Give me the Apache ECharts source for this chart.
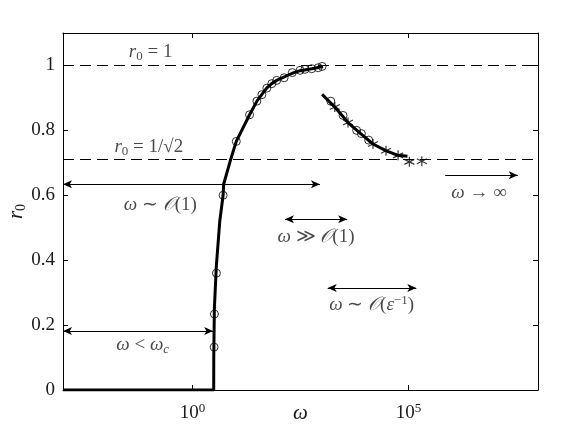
<!DOCTYPE html>
<html><head><meta charset="utf-8">
<script src="https://cdn.jsdelivr.net/npm/echarts@6/dist/echarts.min.js"></script>
<style>html,body{margin:0;padding:0;background:#fff}#c{width:561px;height:438px}</style>
</head><body><div id="c"></div>
<script>
// ---- data ----
const xTickValues = [1, 100000];
const yTickValues = [0, 0.2, 0.4, 0.6, 0.8, 1];
const refLevels = [1, 0.7071];

const lowCurveW = [0.001, 3.09, 3.1, 3.2, 3.55, 4.27, 5.1, 5.25, 7.5, 10.3, 20.9, 31, 40, 52, 68, 89, 204, 309, 575, 1050];
const lowCurveR = [0, 0, 0.1, 0.25, 0.38, 0.52, 0.6, 0.634, 0.707, 0.766, 0.848, 0.89, 0.91, 0.93, 0.944, 0.954, 0.976, 0.984, 0.99, 0.997];

const lowCirclesW = [3.16, 3.21, 3.57, 5.1, 10.3, 20.9, 30.9, 40.4, 52.5, 68.6, 89, 132, 204, 309, 400, 575, 813, 1000];
const lowCirclesR = [0.132, 0.234, 0.36, 0.6, 0.766, 0.848, 0.89, 0.91, 0.93, 0.944, 0.954, 0.962, 0.978, 0.985, 0.988, 0.99, 0.993, 0.997];

const highCurveW = [1000, 1970, 3980, 7830, 15100, 30600, 57300, 94900];
const highCurveR = [0.911, 0.872, 0.824, 0.79, 0.758, 0.737, 0.723, 0.72];

const highCirclesW = [1590, 3060, 6310, 8130, 12000];
const highCirclesR = [0.89, 0.846, 0.8, 0.79, 0.77];

const starsW = [1970, 3980, 15100, 30200, 57500, 105000, 204000];
const starsR = [0.872, 0.824, 0.758, 0.737, 0.723, 0.703, 0.705];

// arrows: [wStart, wEnd, r, doubleHeaded]
const arrowO1 = [0.001, 891, 0.634, true];
const arrowGgO1 = [138, 3800, 0.526, true];
const arrowEps = [1350, 152000, 0.314, true];
const arrowInf = [708000, 3.4e7, 0.662, false];
const arrowWc = [0.001, 3.0, 0.182, true];

// annotation text anchors [w, r]
const noteR1 = [0.107, 1.04];
const noteRsq = [0.097, 0.748];
const noteO1 = [0.18, 0.569];
const noteGg = [720, 0.47];
const noteEps = [14000, 0.262];
const noteInf = [4.3e6, 0.606];
const noteWc = [0.07, 0.138];

// ---- build ----
const zip = (a, b) => a.map((v, i) => [v, b[i]]);
const SERIF = 'Liberation Serif';
const TXT = '#1a1a1a';
const FS = 19;
const rich = {
  i: {fontFamily: SERIF, fontStyle: 'italic', fontSize: FS, color: TXT},
  n: {fontFamily: SERIF, fontSize: FS, color: TXT},
  o: {fontFamily: SERIF, fontStyle: 'italic', fontSize: FS, color: TXT},
  sub: {fontFamily: SERIF, fontSize: 13, color: TXT, padding: [8, 0, 0, 0]},
  subi: {fontFamily: SERIF, fontStyle: 'italic', fontSize: 13, color: TXT, padding: [8, 0, 0, 0]},
  sup: {fontFamily: SERIF, fontSize: 13, color: TXT, padding: [0, 0, 9, 0]}
};
const notes = [
  [noteR1, '{i|r}{sub|0}{n| = 1}'],
  [noteRsq, '{i|r}{sub|0}{n| = 1/√2}'],
  [noteO1, '{i|ω}{n| ∼ }{o|𝒪}{n|(1)}'],
  [noteGg, '{i|ω}{n| ≫ }{o|𝒪}{n|(1)}'],
  [noteEps, '{i|ω}{n| ∼ }{o|𝒪}{n|(}{i|ε}{sup|−1}{n|)}'],
  [noteInf, '{i|ω}{n| → ∞}'],
  [noteWc, '{i|ω}{n| < }{i|ω}{subi|c}']
];
const arrowItem = a => [
  {coord: [a[0], a[2]], symbol: a[3] ? 'arrow' : 'none'},
  {coord: [a[1], a[2]], symbol: 'arrow'}
];

const chart = echarts.init(document.getElementById('c'), null, {renderer: 'canvas'});
const axisLine = {onZero: false, lineStyle: {color: '#000', width: 1}};
chart.setOption({
  animation: false,
  backgroundColor: '#fff',
  grid: {left: 63, top: 33, right: 23, bottom: 48, containLabel: false, outerBoundsMode: 'none'},
  xAxis: [{
    type: 'log', logBase: 10, min: 0.001, max: 1e8, position: 'bottom',
    axisLine: axisLine,
    axisTick: {inside: true, length: 5, customValues: xTickValues, lineStyle: {color: '#000'}},
    axisLabel: {customValues: xTickValues, margin: 12,
      formatter: v => '{b|10}{s|' + Math.round(Math.log10(v)) + '}',
      rich: {b: {fontFamily: SERIF, fontSize: 19, color: TXT},
             s: {fontFamily: SERIF, fontSize: 13, color: TXT, padding: [0, 0, 10, 0]}}},
    splitLine: {show: false}, minorTick: {show: false},
    name: 'ω', nameLocation: 'middle', nameGap: 13, nameMoveOverlap: false,
    nameTextStyle: {fontFamily: SERIF, fontStyle: 'italic', fontSize: 21, color: TXT}
  }, {
    type: 'log', logBase: 10, min: 0.001, max: 1e8, position: 'top',
    axisLine: axisLine,
    axisTick: {inside: true, length: 5, customValues: xTickValues, lineStyle: {color: '#000'}},
    axisLabel: {show: false}, splitLine: {show: false}
  }],
  yAxis: [{
    type: 'value', min: 0, max: 1.1, position: 'left',
    axisLine: axisLine,
    axisTick: {inside: true, length: 5, customValues: yTickValues, lineStyle: {color: '#000'}},
    axisLabel: {customValues: yTickValues, margin: 8, fontFamily: SERIF, fontSize: 19, color: TXT},
    splitLine: {show: false},
    name: '{i|r}{s|0}', nameLocation: 'middle', nameGap: 35, nameMoveOverlap: false,
    nameTextStyle: {rich: {i: {fontFamily: SERIF, fontStyle: 'italic', fontSize: 21, color: TXT},
                            s: {fontFamily: SERIF, fontSize: 14, color: TXT, padding: [9, 0, 0, 0]}}}
  }, {
    type: 'value', min: 0, max: 1.1, position: 'right',
    axisLine: axisLine,
    axisTick: {inside: true, length: 5, customValues: yTickValues, lineStyle: {color: '#000'}},
    axisLabel: {show: false}, splitLine: {show: false}
  }],
  series: [
    {type: 'line', data: [], silent: true,
     markLine: {silent: true, symbol: 'none', label: {show: false},
       lineStyle: {color: '#000', width: 1, type: [11, 6]},
       data: refLevels.map(v => ({yAxis: v}))}},
    {type: 'line', data: [], silent: true,
     markLine: {silent: true, symbolSize: [6, 9], label: {show: false},
       lineStyle: {color: '#000', width: 1, type: 'solid'},
       data: [arrowO1, arrowGgO1, arrowEps, arrowInf, arrowWc].map(arrowItem)}},
    {type: 'line', data: zip(lowCurveW, lowCurveR), showSymbol: false, symbol: 'none',
     lineStyle: {color: '#000', width: 3}, z: 3},
    {type: 'line', data: zip(highCurveW, highCurveR), showSymbol: false, symbol: 'none',
     lineStyle: {color: '#000', width: 3}, z: 3},
    {type: 'scatter', data: zip(lowCirclesW, lowCirclesR), symbol: 'circle', symbolSize: 8,
     itemStyle: {color: 'rgba(0,0,0,0)', borderColor: '#000', borderWidth: 1}, z: 4},
    {type: 'scatter', data: zip(highCirclesW, highCirclesR), symbol: 'circle', symbolSize: 8,
     itemStyle: {color: 'rgba(0,0,0,0)', borderColor: '#000', borderWidth: 1}, z: 4},
    {type: 'scatter', data: zip(starsW, starsR),
     symbol: 'path://M5,0L5,10M0.7,2.5L9.3,7.5M0.7,7.5L9.3,2.5', symbolSize: 10,
     itemStyle: {color: 'rgba(0,0,0,0)', borderColor: '#000', borderWidth: 1.2}, z: 4},
    {type: 'scatter', symbolSize: 0, silent: true, z: 5,
     data: notes.map(n => ({value: n[0], label: {show: true, position: 'inside', formatter: n[1], rich: rich}}))}
  ]
});
</script></body></html>
